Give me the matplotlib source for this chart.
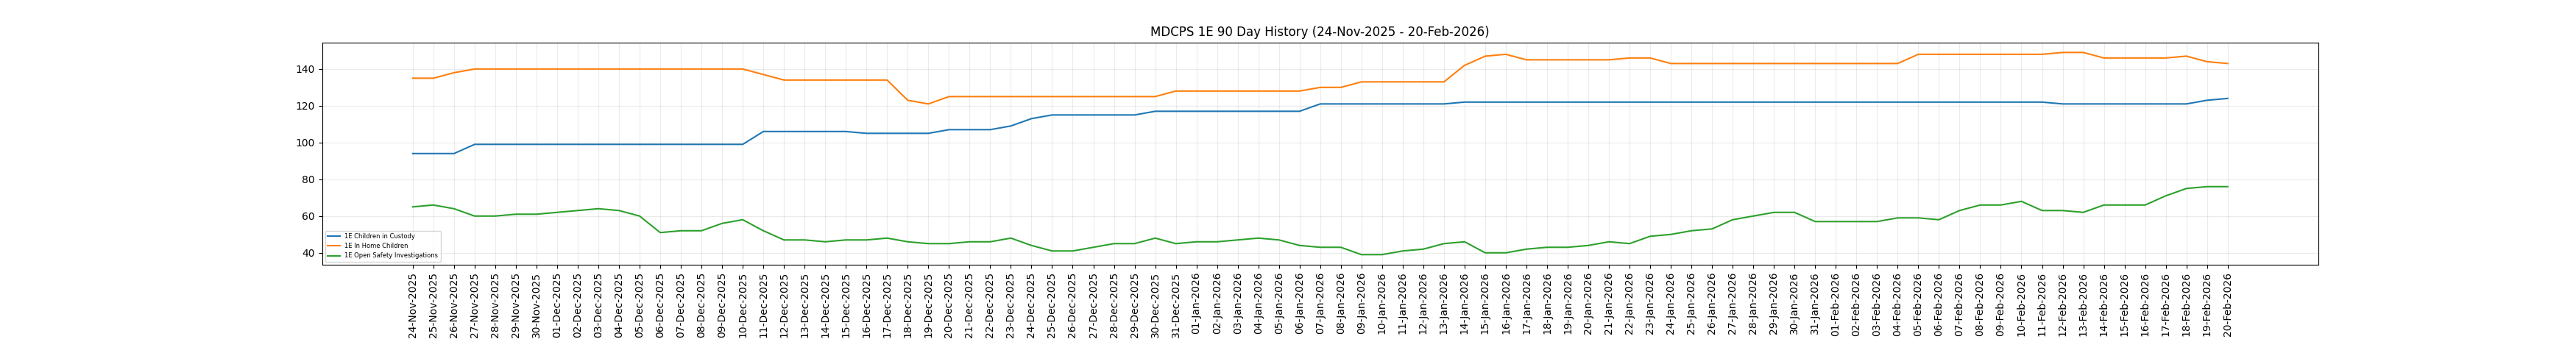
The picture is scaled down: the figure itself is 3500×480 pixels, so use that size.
import matplotlib
matplotlib.use("Agg")
import matplotlib.pyplot as plt
import pandas as pd

start_date = "2025-11-24"
end_date = "2026-02-20"
dates = pd.date_range(start_date, end_date, freq="D")
date_labels = [d.strftime("%d-%b-%Y") for d in dates]

custody = [
    94, 94, 94, 99, 99, 99, 99, 99, 99, 99, 99, 99, 99, 99, 99, 99, 99, 106, 106, 106,
    106, 106, 105, 105, 105, 105, 107, 107, 107, 109, 113, 115, 115, 115, 115, 115, 117, 117, 117, 117,
    117, 117, 117, 117, 121, 121, 121, 121, 121, 121, 121, 122, 122, 122, 122, 122, 122, 122, 122, 122,
    122, 122, 122, 122, 122, 122, 122, 122, 122, 122, 122, 122, 122, 122, 122, 122, 122, 122, 122, 122,
    121, 121, 121, 121, 121, 121, 121, 123, 124,
]
in_home = [
    135, 135, 138, 140, 140, 140, 140, 140, 140, 140, 140, 140, 140, 140, 140, 140, 140, 137, 134, 134,
    134, 134, 134, 134, 123, 121, 125, 125, 125, 125, 125, 125, 125, 125, 125, 125, 125, 128, 128, 128,
    128, 128, 128, 128, 130, 130, 133, 133, 133, 133, 133, 142, 147, 148, 145, 145, 145, 145, 145, 146,
    146, 143, 143, 143, 143, 143, 143, 143, 143, 143, 143, 143, 143, 148, 148, 148, 148, 148, 148, 148,
    149, 149, 146, 146, 146, 146, 147, 144, 143,
]
investigations = [
    65, 66, 64, 60, 60, 61, 61, 62, 63, 64, 63, 60, 51, 52, 52, 56, 58, 52, 47, 47,
    46, 47, 47, 48, 46, 45, 45, 46, 46, 48, 44, 41, 41, 43, 45, 45, 48, 45, 46, 46,
    47, 48, 47, 44, 43, 43, 39, 39, 41, 42, 45, 46, 40, 40, 42, 43, 43, 44, 46, 45,
    49, 50, 52, 53, 58, 60, 62, 62, 57, 57, 57, 57, 59, 59, 58, 63, 66, 66, 68, 63,
    63, 62, 66, 66, 66, 71, 75, 76, 76,
]

series_names = ["1E Children in Custody", "1E In Home Children", "1E Open Safety Investigations"]
title = "MDCPS 1E 90 Day History (24-Nov-2025 - 20-Feb-2026)"

fig, ax = plt.subplots(figsize=(35, 4.8), dpi=100)
fig.subplots_adjust(left=0.125, right=0.9, top=0.88, bottom=0.25)

ax.plot(date_labels, custody, label=series_names[0], color="#1f77b4", linewidth=1.5)
ax.plot(date_labels, in_home, label=series_names[1], color="#ff7f0e", linewidth=1.5)
ax.plot(date_labels, investigations, label=series_names[2], color="#2ca02c", linewidth=1.5)

ax.set_title(title, fontsize=12)
ax.grid(True, alpha=0.25)
ax.tick_params(axis="x", labelrotation=90)
ax.legend(loc="lower left", fontsize=6)

fig.savefig("out.png", dpi=100)
